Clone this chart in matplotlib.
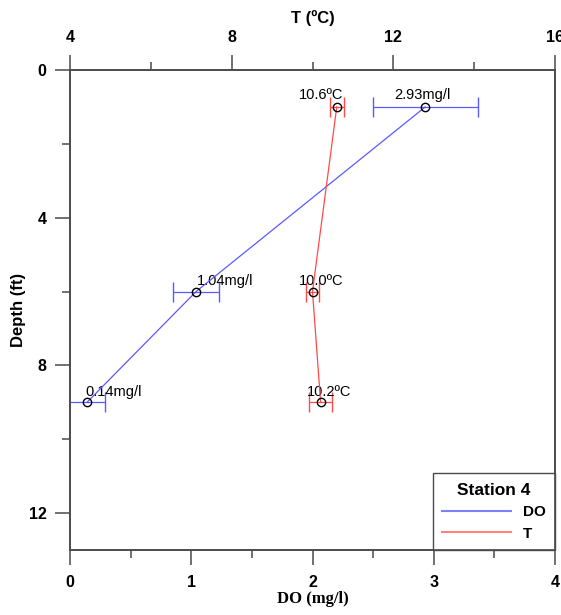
import matplotlib
matplotlib.use('Agg')
import matplotlib.pyplot as plt
from matplotlib.lines import Line2D
from matplotlib.ticker import MultipleLocator

# Station 4 profile data
depth = [1, 6, 9]
do_vals = [2.93, 1.04, 0.14]
do_err = [0.435, 0.187, 0.15]
temp_vals = [10.6, 10.0, 10.2]
temp_err = [0.17, 0.15, 0.29]
do_labels = ['2.93mg/l', '1.04mg/l', '0.14mg/l']
temp_labels = ['10.6ºC', '10.0ºC', '10.2ºC']

plt.rcParams['font.family'] = ['Liberation Sans', 'DejaVu Sans']

blue = '#5a5aff'
red = '#ff4a4a'
spine_col = '#4a4a4a'

fig = plt.figure(figsize=(5.61, 6.15), dpi=100)
ax = fig.add_axes([0.1248, 0.1057, 0.8645, 0.7805])
ax_t = ax.twiny()

ax.errorbar(do_vals, depth, xerr=do_err, color=blue, lw=0.9, marker='o', ms=6,
            mfc='none', mec='black', mew=1.0, capsize=7, elinewidth=0.9, zorder=3)
ax_t.errorbar(temp_vals, depth, xerr=temp_err, color=red, lw=0.9, marker='o', ms=6,
              mfc='none', mec='black', mew=1.0, capsize=7, elinewidth=0.9, zorder=3)

# point labels (offsets in points)
do_off = [(-2, 5.5), (21, 5), (19, 4.5)]
for x, y, s, o in zip(do_vals, depth, do_labels, do_off):
    ax.annotate(s, (x, y), xytext=o, textcoords='offset points', ha='center',
                va='baseline', fontsize=10.5)
t_off = [(-11.5, 5.5), (6.5, 5), (6, 4.5)]
for x, y, s, o in zip(temp_vals, depth, temp_labels, t_off):
    ax_t.annotate(s, (x, y), xytext=o, textcoords='offset points', ha='center',
                  va='baseline', fontsize=10.5)

ax.set_xlim(0, 4)
ax.set_ylim(13, 0)
ax_t.set_xlim(4, 16)

ax.xaxis.set_major_locator(MultipleLocator(1))
ax.xaxis.set_minor_locator(MultipleLocator(0.5))
ax.yaxis.set_major_locator(MultipleLocator(4))
ax.yaxis.set_minor_locator(MultipleLocator(2))
ax_t.xaxis.set_major_locator(MultipleLocator(4))
ax_t.xaxis.set_minor_locator(MultipleLocator(2))

for a in (ax, ax_t):
    for sp in a.spines.values():
        sp.set_color(spine_col)
        sp.set_linewidth(1.2)
    a.tick_params(which='major', direction='out', length=11, width=1.1,
                  color=spine_col, labelsize=11.5)
    a.tick_params(which='minor', direction='out', length=6, width=1.1,
                  color=spine_col)
    for lab in a.get_xticklabels() + a.get_yticklabels():
        lab.set_fontweight('bold')

ax.tick_params(axis='x', which='major', pad=7)
ax.tick_params(axis='y', which='major', pad=6)
ax_t.tick_params(axis='x', which='major', pad=7)

ax.set_xlabel('DO (mg/l)', family='Liberation Serif', fontweight='bold',
              fontsize=12, labelpad=1)
ax.set_ylabel('Depth (ft)', fontweight='bold', fontsize=12, labelpad=2)
ax_t.set_xlabel('T (ºC)', fontweight='bold', fontsize=12, labelpad=5)

handles = [Line2D([], [], color='#8080ff', lw=1.5),
           Line2D([], [], color='#ff8080', lw=1.5)]
leg = ax.legend(handles, ['DO', 'T'], title='Station 4', loc='lower right',
                borderaxespad=0, fancybox=False, framealpha=1,
                edgecolor=spine_col, handlelength=4.5, handletextpad=0.8,
                prop={'weight': 'bold', 'size': 11},
                title_fontproperties={'weight': 'bold', 'size': 12.5},
                borderpad=0.6, labelspacing=0.5)
leg.get_frame().set_linewidth(1.0)
leg.set_zorder(5)

fig.savefig('out.png', dpi=100)
